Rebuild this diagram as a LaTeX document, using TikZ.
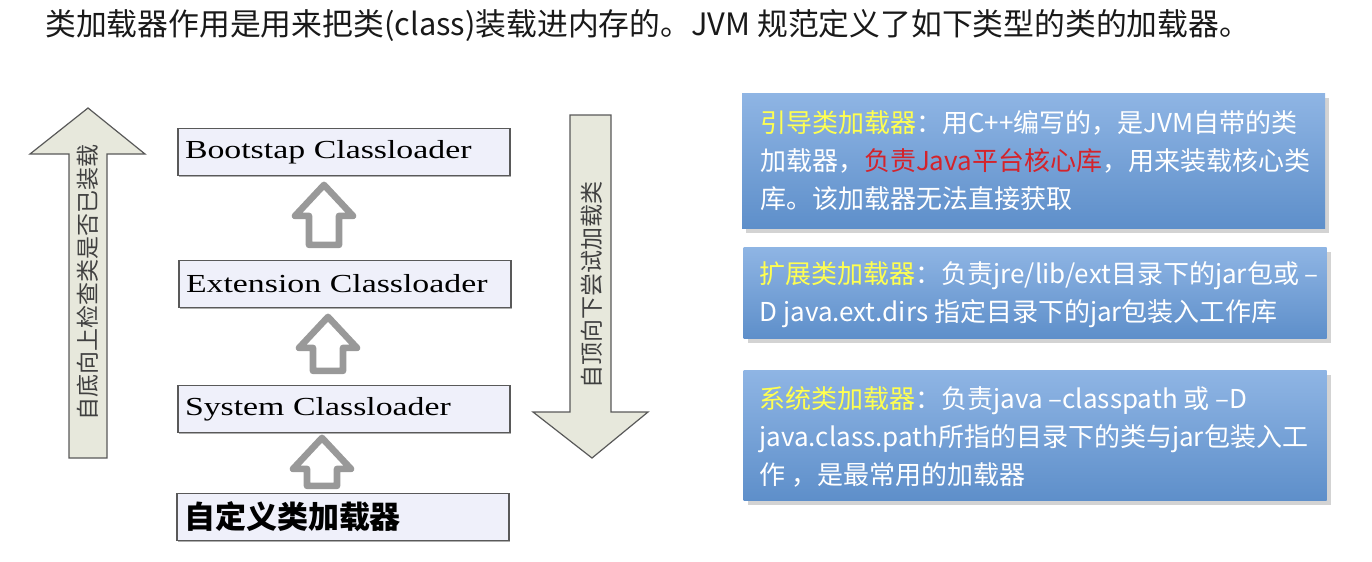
\documentclass[tikz,border=0pt]{standalone}
\usepackage{fontspec}
\setmainfont{Noto Sans CJK SC}
\newfontfamily\loaderfont[FakeStretch=1.3]{Liberation Serif}
\usetikzlibrary{calc, positioning, shadows}

\definecolor{sidefill}{HTML}{E7E8DC}
\definecolor{loaderfill}{HTML}{EFF0FA}
\definecolor{bluetop}{HTML}{8FB5E4}
\definecolor{bluebot}{HTML}{5E8FCA}
\definecolor{keyyellow}{HTML}{FFFF50}
\definecolor{keyred}{HTML}{D4232B}

\tikzset{
  loaderbox/.style={draw=black!65, line width=0.9pt, fill=loaderfill,
    minimum width=166pt, minimum height=23.5pt, inner xsep=3.5pt,
    text width=159pt, align=left, font=\loaderfont\fontsize{13}{15}\selectfont,
    drop shadow={shadow xshift=0.7pt, shadow yshift=-0.7pt, opacity=0.45, fill=black!70}},
  infobox/.style={top color=bluetop, bottom color=bluebot,
    minimum width=291.5pt, inner sep=0pt,
    drop shadow={shadow xshift=2pt, shadow yshift=-2.5pt, opacity=0.35}},
  infotext/.style={anchor=west, text=white, align=left, inner sep=0pt,
    font=\fontsize{13}{19}\selectfont},
  sidearrow/.style={draw=black!65, line width=0.6pt, fill=sidefill},
  sidetext/.style={rotate=90, text=black!75, font=\fontsize{11.5}{13}\selectfont},
  hollowup/.pic={
    \draw[gray!80, line width=3.3pt, line join=round, fill=white]
      (0,0) -- (29,31) -- (15,31) -- (15,#1) -- (-15,#1) -- (-15,31) -- (-29,31) -- cycle;
  }
}

\begin{document}
\begin{tikzpicture}[x=0.5pt, y=-0.5pt]
\useasboundingbox (0,0) rectangle (1372,562);

% Title
\node[anchor=west, inner sep=0, text=black!90, font=\fontsize{15.4}{18}\selectfont] (title) at (45,25)
  {类加载器作用是用来把类(class)装载进内存的。JVM 规范定义了如下类型的类的加载器。};

% Left arrow, bottom up
\draw[sidearrow] (88,108) -- (145,154) -- (107,154) -- (107,458) -- (69,458)
  -- (69,154) -- (30,154) -- cycle;
\node[sidetext] (uptext) at (88,282) {自底向上检查类是否已装载};

% Right arrow, top down
\draw[sidearrow] (570,115) -- (611,115) -- (611,412) -- (648,412) -- (592,458)
  -- (533,412) -- (570,412) -- cycle;
\node[sidetext] (downtext) at (592,285) {自顶向下尝试加载类};

% Classloader chain
\node[loaderbox] (boot) at (344,152) {Bootstap Classloader};
\node[loaderbox] (ext) at (345,284) {Extension Classloader};
\node[loaderbox] (sys) at (344,409) {System Classloader};
\node[loaderbox, font=\bfseries\fontsize{15.5}{17}\selectfont] (custom) at (343,517) {自定义类加载器};

% Hollow arrows between the boxes
\pic at ($(boot.south)+(-20,8.5)$) {hollowup=60};
\pic at ($(ext.south)+(-17,8.5)$) {hollowup=54};
\pic at ($(sys.south)+(-22,4.5)$) {hollowup=48};

% Descriptions
\node[infobox, minimum height=67.5pt] (bootinfo) at (1033.5,160.5) {};
\node[infotext] (boottext) at ([xshift=9pt]bootinfo.west)
  {{\color{keyyellow}引导类加载器}：用C++编写的，是JVM自带的类\\
   加载器，{\color{keyred}负责Java平台核心库}，用来装载核心类\\
   库。该加载器无法直接获取};

\node[infobox, minimum height=45.5pt] (extinfo) at (1035,292.5) {};
\node[infotext] (exttext) at ([xshift=8pt, yshift=-1pt]extinfo.west)
  {{\color{keyyellow}扩展类加载器}：负责jre/lib/ext目录下的jar包或 –\\
   D java.ext.dirs 指定目录下的jar包装入工作库};

\node[infobox, minimum height=65pt] (sysinfo) at (1035,435) {};
\node[infotext] (systext) at ([xshift=8pt, yshift=-1pt]sysinfo.west)
  {{\color{keyyellow}系统类加载器}：负责java –classpath 或 –D\\
   java.class.path所指的目录下的类与jar包装入工\\
   作 ，是最常用的加载器};

\end{tikzpicture}
\end{document}
